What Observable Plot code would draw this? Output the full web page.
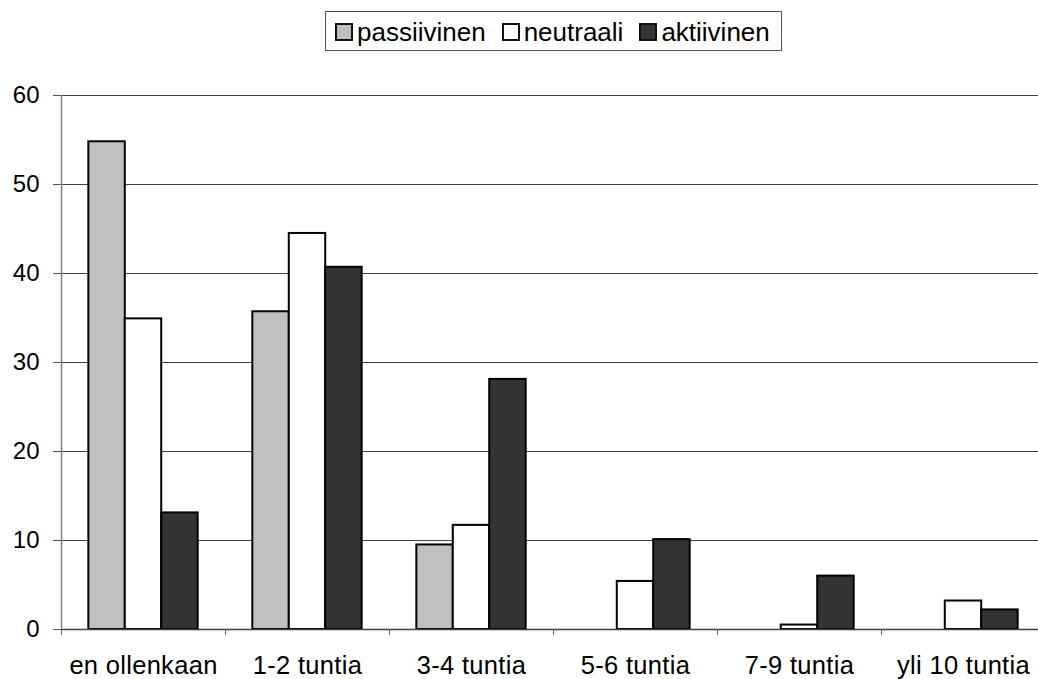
<!DOCTYPE html>
<html><head><meta charset="utf-8">
<script src="https://cdn.jsdelivr.net/npm/d3@7"></script>
<script src="https://cdn.jsdelivr.net/npm/@observablehq/plot@0.6"></script>
<style>
html,body{margin:0;padding:0;background:#fff;overflow:hidden;width:1038px;height:679px}
body{font-family:"Liberation Sans",Arial,sans-serif;position:relative}
#legend{position:absolute;left:325px;top:11px;width:457px;height:40px;border:1px solid #555;box-sizing:border-box;
  display:flex;align-items:center;justify-content:flex-start;padding-left:9px;padding-top:2px;font-size:26px;color:#000;white-space:nowrap}
#legend .item{display:flex;align-items:center;margin-right:16px;line-height:1}
#legend .sw{width:14px;height:14px;border:2px solid #111;margin-right:4px;display:inline-block}
#chart{position:absolute;left:0;top:80px;width:1045px}
#chart svg{max-width:none !important;width:1045px !important;height:599px !important}
#chart g[aria-label^="x-axis"] text{font-size:25.5px;letter-spacing:0.3px}
#chart g[aria-label^="y-axis"] text{font-size:24px}
#chart g[aria-label^="y-axis"] line, #chart g[aria-label^="y-axis"] path{stroke:#555}
</style></head>
<body>
<div id="legend"></div>
<div id="chart"></div>
<script>
const categories = ["en ollenkaan", "1-2 tuntia", "3-4 tuntia", "5-6 tuntia", "7-9 tuntia", "yli 10 tuntia"];
const seriesNames = ["passiivinen", "neutraali", "aktiivinen"];
const passiivinen = [54.8, 35.7, 9.5, 0, 0, 0];
const neutraali = [34.9, 44.5, 11.7, 5.4, 0.5, 3.2];
const aktiivinen = [13.1, 40.7, 28.1, 10.1, 6.0, 2.2];
const yTicks = [0, 10, 20, 30, 40, 50, 60];
const colors = ["#c0c0c0", "#ffffff", "#333333"];

const seriesValues = [passiivinen, neutraali, aktiivinen];
const rows = [];
seriesNames.forEach((s, si) => categories.forEach((c, ci) => rows.push({series: s, si, category: c, value: seriesValues[si][ci]})));

// legend
const leg = document.getElementById("legend");
seriesNames.forEach((s, i) => {
  const it = document.createElement("span"); it.className = "item";
  const sw = document.createElement("span"); sw.className = "sw"; sw.style.background = colors[i];
  it.appendChild(sw); it.appendChild(document.createTextNode(s)); leg.appendChild(it);
});

const W = 1045, ML = 61, MR = 0;
const bw = (W - ML - MR) / categories.length;
const bar = bw / 4.5; // gap width 50%
const barMarks = seriesNames.map((s, i) => Plot.barY(rows.filter(d => d.series === s && d.value > 0), {
  x: "category", y: "value", fill: colors[i], stroke: "#000", strokeWidth: 2,
  insetLeft: bar * 0.75 + bar * i, insetRight: bw - bar * 0.75 - bar * (i + 1)
}));

const chart = Plot.plot({
  width: W, height: 599,
  marginLeft: ML, marginRight: MR, marginTop: 15, marginBottom: 50,
  style: {fontFamily: "'Liberation Sans', Arial, sans-serif", fontSize: "24px", color: "#000", background: "#fff", overflow: "visible"},
  x: {domain: categories, padding: 0, tickSize: 0, tickPadding: 26, label: null},
  y: {domain: [0, 60], ticks: yTicks, tickSize: 8, tickPadding: 14, label: null},
  marks: [
    Plot.ruleY(yTicks.filter(t => t > 0), {stroke: "#404040", strokeWidth: 1}),
    ...barMarks,
    Plot.ruleY([0], {stroke: "#404040", strokeWidth: 1.5}),
    Plot.ruleX([0], {x: () => categories[0], dx: -bw / 2, y1: 0, y2: 60, stroke: "#808080", strokeWidth: 1.5}),
    Plot.ruleX(categories, {x: d => d, dx: -bw / 2, y1: 0, y2: -0.65, stroke: "#606060", strokeWidth: 1})
  ]
});
document.getElementById("chart").appendChild(chart);
</script>
</body></html>
